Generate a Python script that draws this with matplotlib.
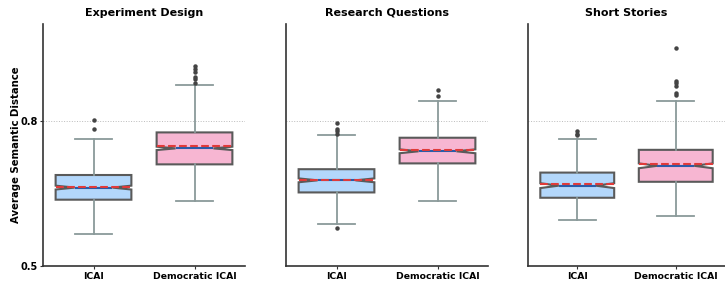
import numpy as np
import matplotlib
matplotlib.use("Agg")
import matplotlib.pyplot as plt

panels = ["Experiment Design", "Research Questions", "Short Stories"]
groups = ["ICAI", "Democratic ICAI"]

# per panel: [ICAI, Democratic ICAI]
q1 = [[0.637, 0.710], [0.652, 0.712], [0.641, 0.674]]
med = [[0.662, 0.743], [0.677, 0.737], [0.666, 0.707]]
q3 = [[0.688, 0.776], [0.700, 0.765], [0.693, 0.740]]
mean = [[0.6635, 0.747], [0.677, 0.740], [0.670, 0.711]]
whislo = [[0.566, 0.6345], [0.5875, 0.6345], [0.596, 0.6035]]
whishi = [[0.763, 0.875], [0.770, 0.841], [0.762, 0.840]]
notch_half = [[0.004, 0.0035], [0.004, 0.004], [0.005, 0.005]]
fliers = [
    [[0.802, 0.783], [0.914, 0.908, 0.900, 0.890, 0.886, 0.879]],
    [[0.796, 0.783, 0.779, 0.772, 0.579], [0.864, 0.851]],
    [[0.778, 0.773, 0.771], [0.950, 0.882, 0.878, 0.871, 0.857, 0.854]],
]

colors = ["#b3d7fb", "#f7b6d2"]

fig = plt.figure(figsize=(7.25, 2.82), dpi=100)
lefts = [43 / 725, 286 / 725, 528 / 725]
widths = [202 / 725, 202 / 725, 197 / 725]
bottom, height = 1 - 266 / 282, (266 - 24) / 282

for p in range(3):
    ax = fig.add_axes([lefts[p], bottom, widths[p], height])
    stats = []
    for g in range(2):
        stats.append(dict(
            med=med[p][g], q1=q1[p][g], q3=q3[p][g], mean=mean[p][g],
            whislo=whislo[p][g], whishi=whishi[p][g],
            cilo=med[p][g] - notch_half[p][g], cihi=med[p][g] + notch_half[p][g],
            fliers=fliers[p][g], label=groups[g]))
    bp = ax.bxp(stats, positions=[0, 1], widths=0.75, shownotches=True, patch_artist=True,
                showmeans=True, meanline=True,
                boxprops=dict(edgecolor="#5a5a5a", linewidth=1.5),
                whiskerprops=dict(color="#8a9a9a", linewidth=1.3),
                capprops=dict(color="#8a9a9a", linewidth=1.3),
                medianprops=dict(color="#2a5ca8", linewidth=1.5),
                meanprops=dict(color="#e03a3a", linestyle="--", linewidth=1.5),
                flierprops=dict(marker="o", markersize=2.2, markerfacecolor="#444444",
                                markeredgecolor="#444444"))
    for patch, c in zip(bp["boxes"], colors):
        patch.set_facecolor(c)
    ax.set_xlim(-0.5, 1.5)
    ax.set_ylim(0.5, 1.0)
    ax.set_yticks([0.5, 0.8])
    ax.yaxis.grid(True, linestyle=":", color="#bbbbbb", linewidth=0.7)
    ax.set_axisbelow(True)
    ax.set_xticks([0, 1])
    ax.set_xticklabels(groups, fontsize=6.7, fontweight="bold")
    ax.tick_params(axis="both", length=2, width=0.8, pad=2, colors="#333333")
    ax.tick_params(axis="x", labelcolor="black")
    ax.tick_params(axis="y", labelcolor="black")
    if p == 0:
        ax.set_yticklabels(["0.5", "0.8"], fontsize=7, fontweight="bold")
        ax.set_ylabel("Average Semantic Distance", fontsize=7.3, fontweight="bold", labelpad=-1)
    else:
        ax.set_yticklabels([])
        ax.tick_params(axis="y", length=0)
    for s in ["top", "right"]:
        ax.spines[s].set_visible(False)
    for s in ["left", "bottom"]:
        ax.spines[s].set_color("#333333")
        ax.spines[s].set_linewidth(1.2)
    ax.set_title(panels[p], fontsize=8, fontweight="bold", pad=6)

fig.savefig("out.png", dpi=100)
